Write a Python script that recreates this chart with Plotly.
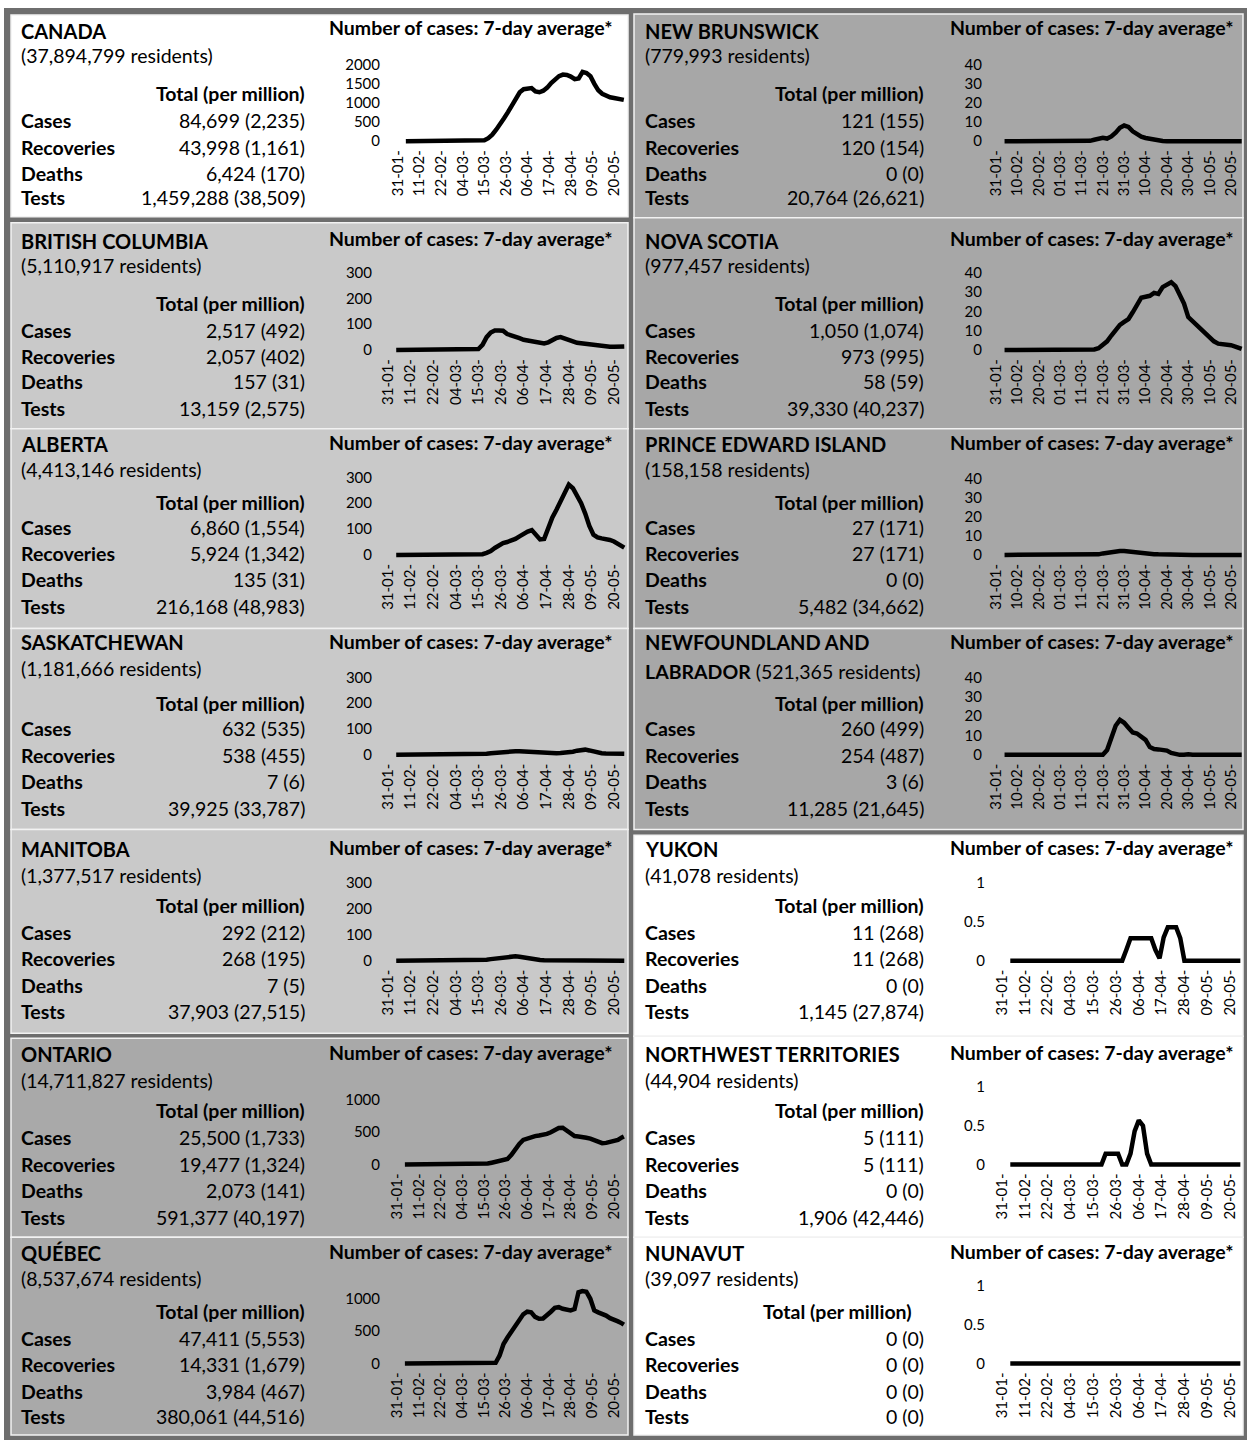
import datetime as dt
import plotly.graph_objects as go

W, H = 1247, 1443
FONT = "Lato"

# ---------------- data ----------------
DATES = ["2020-02-04", "2020-03-01", "2020-03-09", "2020-03-11", "2020-03-13", "2020-03-15",
         "2020-03-17", "2020-03-19", "2020-03-21", "2020-03-23", "2020-03-25", "2020-03-27",
         "2020-03-29", "2020-03-31", "2020-04-02", "2020-04-04", "2020-04-06", "2020-04-08",
         "2020-04-10", "2020-04-12", "2020-04-14", "2020-04-16", "2020-04-18", "2020-04-20",
         "2020-04-22", "2020-04-24", "2020-04-26", "2020-04-28", "2020-04-30", "2020-05-02",
         "2020-05-04", "2020-05-06", "2020-05-08", "2020-05-10", "2020-05-12", "2020-05-14",
         "2020-05-16", "2020-05-18", "2020-05-20", "2020-05-22", "2020-05-24", "2020-05-25"]

REGIONS = ["CANADA", "BRITISH COLUMBIA", "ALBERTA", "SASKATCHEWAN", "MANITOBA", "ONTARIO", "QUÉBEC",
           "NEW BRUNSWICK", "NOVA SCOTIA", "PRINCE EDWARD ISLAND", "NEWFOUNDLAND AND",
           "YUKON", "NORTHWEST TERRITORIES", "NUNAVUT"]
RESIDENTS = ["37,894,799", "5,110,917", "4,413,146", "1,181,666", "1,377,517", "14,711,827", "8,537,674",
             "779,993", "977,457", "158,158", "521,365", "41,078", "44,904", "39,097"]
CASES = ["84,699 (2,235)", "2,517 (492)", "6,860 (1,554)", "632 (535)", "292 (212)", "25,500 (1,733)",
         "47,411 (5,553)", "121 (155)", "1,050 (1,074)", "27 (171)", "260 (499)", "11 (268)",
         "5 (111)", "0 (0)"]
RECOVERIES = ["43,998 (1,161)", "2,057 (402)", "5,924 (1,342)", "538 (455)", "268 (195)",
              "19,477 (1,324)", "14,331 (1,679)", "120 (154)", "973 (995)", "27 (171)", "254 (487)",
              "11 (268)", "5 (111)", "0 (0)"]
DEATHS = ["6,424 (170)", "157 (31)", "135 (31)", "7 (6)", "7 (5)", "2,073 (141)", "3,984 (467)",
          "0 (0)", "58 (59)", "0 (0)", "3 (6)", "0 (0)", "0 (0)", "0 (0)"]
TESTS = ["1,459,288 (38,509)", "13,159 (2,575)", "216,168 (48,983)", "39,925 (33,787)",
         "37,903 (27,515)", "591,377 (40,197)", "380,061 (44,516)", "20,764 (26,621)",
         "39,330 (40,237)", "5,482 (34,662)", "11,285 (21,645)", "1,145 (27,874)",
         "1,906 (42,446)", "0 (0)"]
ROW_LABELS = ["Cases", "Recoveries", "Deaths", "Tests"]
HEADER = "Total (per million)"
CHART_TITLE = "Number of cases: 7-day average*"

Y_MAX = [2000, 300, 300, 300, 300, 1000, 1000, 40, 40, 40, 40, 1, 1, 1]
Y_STEP = [500, 100, 100, 100, 100, 500, 500, 10, 10, 10, 10, 0.5, 0.5, 0.5]
TICK_DAYS = [11, 11, 11, 11, 11, 11, 11, 10, 10, 10, 10, 11, 11, 11]

CANADA_AVG = [0, 0, 0, 0, 5, 25, 80, 170, 300, 430, 600, 760, 950, 1130, 1280, 1360, 1390, 1390,
              1300, 1280, 1320, 1400, 1520, 1620, 1700, 1740, 1730, 1690, 1620, 1640, 1810, 1780,
              1700, 1500, 1330, 1240, 1180, 1150, 1130, 1120, 1100, 1080]
BC_AVG = [0, 0, 2, 2, 3, 4, 20, 50, 68, 76, 76, 75, 62, 58, 52, 46, 40, 37, 34, 31, 28, 26, 30, 40,
          47, 50, 46, 40, 34, 28, 26, 25, 22, 19, 15, 13, 13, 13, 13, 14, 14, 14]
AB_AVG = [0, 0, 0, 0, 0, 1, 3, 8, 15, 27, 38, 46, 50, 55, 62, 72, 82, 90, 96, 75, 60, 62, 105, 145,
          175, 210, 245, 272, 258, 232, 200, 160, 112, 78, 68, 64, 62, 58, 52, 42, 32, 28]
SK_AVG = [0, 0, 0, 0, 0, 0, 2, 4, 6, 8, 10, 11, 12, 13, 14, 14, 13, 12, 10, 8, 7, 6, 5, 5, 6, 7, 8,
          9, 12, 16, 19, 20, 17, 12, 8, 6, 5, 4, 4, 4, 4, 4]
MB_AVG = [0, 0, 0, 0, 0, 0, 2, 4, 6, 8, 10, 12, 14, 16, 17, 15, 12, 9, 6, 4, 3, 2, 2, 2, 1, 1, 1, 1,
          1, 1, 1, 0, 0, 0, 0, 0, 0, 0, 0, 0, 0, 0]
ON_AVG = [0, 0, 0, 0, 0, 5, 15, 28, 38, 50, 62, 85, 150, 250, 320, 380, 405, 420, 440, 450, 460, 475,
          500, 530, 565, 570, 530, 480, 440, 435, 430, 415, 400, 380, 355, 330, 335, 350, 365, 380,
          420, 435]
QC_AVG = [0, 0, 0, 0, 0, 0, 0, 0, 10, 120, 300, 400, 490, 570, 670, 760, 800, 790, 720, 690, 695,
          740, 800, 860, 870, 845, 830, 820, 840, 1100, 1120, 1110, 1000, 820, 790, 770, 740, 700,
          680, 650, 620, 600]
NB_AVG = [0, 0, 0, 0, 0, 0.2, 0.8, 1.3, 1.8, 1.4, 2.5, 4.5, 7.0, 8.2, 7.5, 5.2, 3.5, 2.4, 1.7, 1.2,
          0.8, 0.4, 0.1, 0, 0, 0, 0, 0, 0, 0, 0, 0, 0, 0, 0, 0, 0, 0, 0, 0, 0, 0]
NS_AVG = [0, 0, 0, 0, 0, 0, 0.3, 1, 2.5, 4.5, 7.5, 10.5, 13, 14.5, 16, 19.5, 23.5, 27, 27.5, 28,
          29.5, 29, 32.5, 34, 35, 33, 28, 24, 17, 15, 13, 11, 8.5, 6.5, 4.5, 3.3, 3.1, 2.8, 2.5,
          1.8, 1, 0.6]
PE_AVG = [0, 0, 0, 0, 0, 0, 0, 0.3, 0.8, 1.2, 1.5, 1.8, 2.0, 2.1, 1.8, 1.3, 1.0, 0.8, 0.6, 0.5, 0.4,
          0.3, 0.2, 0.1, 0, 0, 0, 0, 0, 0, 0, 0, 0, 0, 0, 0, 0, 0, 0, 0, 0, 0]
NL_AVG = [0, 0, 0, 0, 0, 0, 0, 0, 0, 2.5, 9, 15, 18, 16.5, 14, 11.5, 11, 9, 7.7, 4, 3, 2.8, 2.6, 2.2,
          1.0, 0.2, 0, 0, 0.3, 0, 0, 0, 0, 0.3, 0, 0, 0, 0, 0, 0, 0, 0]
YT_AVG = [0, 0, 0, 0, 0, 0, 0, 0, 0, 0, 0, 0, 0, 0.14, 0.29, 0.29, 0.29, 0.29, 0.29, 0.29, 0.14,
          0.03, 0.3, 0.43, 0.43, 0.43, 0.29, 0, 0, 0, 0, 0, 0, 0, 0, 0, 0, 0, 0, 0, 0, 0]
NT_AVG = [0, 0, 0, 0, 0, 0, 0, 0, 0.14, 0.14, 0.14, 0.14, 0, 0, 0.14, 0.43, 0.57, 0.5, 0.14, 0, 0,
          0, 0, 0, 0, 0, 0, 0, 0, 0, 0, 0, 0, 0, 0, 0, 0, 0, 0, 0, 0, 0]
NU_AVG = [0, 0, 0, 0, 0, 0, 0, 0, 0, 0, 0, 0, 0, 0, 0, 0, 0, 0, 0, 0, 0, 0, 0, 0, 0, 0, 0, 0, 0, 0,
          0, 0, 0, 0, 0, 0, 0, 0, 0, 0, 0, 0]

SERIES = [CANADA_AVG, BC_AVG, AB_AVG, SK_AVG, MB_AVG, ON_AVG, QC_AVG,
          NB_AVG, NS_AVG, PE_AVG, NL_AVG, YT_AVG, NT_AVG, NU_AVG]

# ---------------- layout (pixels) ----------------
WHITE, LIGHT, MID, MID2, FRAME = "#ffffff", "#c9c9c9", "#a9a9a9", "#a7a7a7", "#6e6e6e"

PANELS = [
    dict(box=(11, 10, 628, 213), fill=WHITE, tx=19, vx=307, hx=307,
         rows=[26, 51, 89, 116, 143, 169, 194], ct=(23, 614), cx=(398, 614), cy=(137, 60), yl=380),
    dict(box=(11, 219, 628, 426), fill=LIGHT, tx=19, vx=307, hx=307,
         rows=[237, 262, 300, 327, 353, 379, 406], ct=(235, 614), cx=(388, 614), cy=(347, 269), yl=372),
    dict(box=(11, 426, 628, 627), fill=LIGHT, tx=19, vx=307, hx=307,
         rows=[441, 467, 500, 525, 552, 578, 605], ct=(440, 614), cx=(388, 614), cy=(553, 475), yl=372),
    dict(box=(11, 627, 628, 829), fill=LIGHT, tx=19, vx=307, hx=307,
         rows=[641, 667, 702, 728, 755, 781, 808], ct=(640, 614), cx=(388, 614), cy=(754, 676), yl=372),
    dict(box=(11, 829, 628, 1034), fill=LIGHT, tx=19, vx=307, hx=307,
         rows=[849, 875, 906, 933, 959, 986, 1012], ct=(847, 614), cx=(388, 614), cy=(961, 883), yl=372),
    dict(box=(11, 1039, 628, 1239), fill=MID, tx=19, vx=307, hx=307,
         rows=[1055, 1081, 1112, 1139, 1166, 1192, 1219], ct=(1053, 614), cx=(397, 614), cy=(1166, 1101), yl=380),
    dict(box=(11, 1239, 628, 1438), fill=MID, tx=19, vx=307, hx=307,
         rows=[1255, 1281, 1314, 1341, 1367, 1394, 1419], ct=(1253, 614), cx=(397, 614), cy=(1366, 1301), yl=380),
    dict(box=(634, 9, 1243, 214), fill=MID2, tx=643, vx=926, hx=926,
         rows=[26, 51, 89, 116, 143, 169, 194], ct=(23, 1235), cx=(996, 1231), cy=(137, 60), yl=982),
    dict(box=(634, 214, 1243, 426), fill=MID2, tx=643, vx=926, hx=926,
         rows=[237, 262, 300, 327, 353, 379, 406], ct=(235, 1235), cx=(996, 1231), cy=(347, 269), yl=982),
    dict(box=(634, 426, 1243, 627), fill=MID2, tx=643, vx=926, hx=926,
         rows=[441, 467, 500, 525, 552, 578, 605], ct=(440, 1235), cx=(996, 1231), cy=(553, 476), yl=982),
    dict(box=(634, 627, 1243, 829), fill=MID2, tx=643, vx=926, hx=926,
         rows=[641, 670, 702, 728, 755, 781, 808], ct=(640, 1235), cx=(996, 1231), cy=(754, 676), yl=982),
    dict(box=(634, 835, 1243, 1037), fill=WHITE, tx=643, vx=926, hx=926,
         rows=[849, 875, 906, 933, 959, 986, 1012], ct=(847, 1235), cx=(1002, 1230), cy=(961, 883), yl=985),
    dict(box=(634, 1037, 1243, 1239), fill=WHITE, tx=643, vx=926, hx=926,
         rows=[1055, 1081, 1112, 1139, 1166, 1192, 1219], ct=(1053, 1235), cx=(1002, 1230), cy=(1166, 1088), yl=985),
    dict(box=(634, 1239, 1243, 1438), fill=WHITE, tx=643, vx=926, hx=914,
         rows=[1255, 1281, 1314, 1341, 1367, 1394, 1419], ct=(1253, 1235), cx=(1002, 1230), cy=(1366, 1288), yl=985),
]


def fx(p):
    return p / W


def fy(p):
    return 1 - p / H


TXT = 19.5
TICK = 15
INK = "#000000"

fig = go.Figure()
shapes = [dict(type="rect", xref="paper", yref="paper", x0=fx(4), x1=fx(1247), y0=fy(1443), y1=fy(3),
               fillcolor=FRAME, line=dict(width=0), layer="below")]
annotations = []
layout_axes = {}
base = dt.datetime(2020, 1, 31)


def ann(x, y, text, anchor="left", size=TXT):
    annotations.append(dict(xref="paper", yref="paper", x=fx(x), y=fy(y), text=text, showarrow=False,
                            xanchor=anchor, yanchor="middle",
                            font=dict(family=FONT, size=size, color=INK)))


for i, p in enumerate(PANELS):
    x0, y0, x1, y1 = p["box"]
    shapes.append(dict(type="rect", xref="paper", yref="paper", x0=fx(x0), x1=fx(x1), y0=fy(y1), y1=fy(y0),
                       fillcolor=p["fill"], line=dict(color="#f2f2f2", width=1.5), layer="below"))
    r = p["rows"]
    ann(p["tx"], r[0], "<b>%s</b>" % REGIONS[i], size=20)
    if i == 10:
        ann(p["tx"], r[1], "<b>LABRADOR</b> (%s residents)" % RESIDENTS[i])
    else:
        ann(p["tx"], r[1], "(%s residents)" % RESIDENTS[i])
    ann(p["hx"], r[2], "<b>%s</b>" % HEADER, anchor="right")
    vals = [CASES[i], RECOVERIES[i], DEATHS[i], TESTS[i]]
    for k in range(4):
        ann(p["tx"], r[3 + k], "<b>%s</b>" % ROW_LABELS[k])
        ann(p["vx"], r[3 + k], vals[k], anchor="right")
    ann(p["ct"][1], p["ct"][0], "<b>%s</b>" % CHART_TITLE, anchor="right")

    # axes
    n = i + 1
    cx0, cx1 = p["cx"]
    cy0, cyt = p["cy"]
    ppd = (cx1 - cx0) / 110.0
    left_px = p["yl"] + 1
    right_px = cx0 + 116.5 * ppd
    start = base - dt.timedelta(days=(cx0 - left_px) / ppd)
    end = base + dt.timedelta(days=116.5)
    ymax = Y_MAX[i]
    top = max(ymax, max(SERIES[i]))
    scale = (cy0 - cyt) / ymax
    pad = 5
    yr = [-pad / scale, top + pad / scale]
    ticks = []
    v = 0
    while v <= ymax + 1e-9:
        ticks.append(v)
        v += Y_STEP[i]
    suffix = "" if n == 1 else str(n)
    layout_axes["xaxis" + suffix] = dict(
        type="date", domain=[fx(left_px), fx(right_px)],
        range=[start.strftime("%Y-%m-%d %H:%M:%S"), end.strftime("%Y-%m-%d %H:%M:%S")],
        tick0="2020-01-31", dtick=86400000 * TICK_DAYS[i], tickformat="%d-%m-", tickangle=-90,
        showgrid=False, zeroline=False, showline=False, ticks="", anchor="y" + suffix,
        tickfont=dict(family=FONT, size=TICK, color=INK), fixedrange=True)
    layout_axes["yaxis" + suffix] = dict(
        domain=[fy(cy0 + pad), fy(cy0 - top * scale - pad)], range=yr, tickvals=ticks,
        ticktext=["%g" % t for t in ticks], showgrid=False, zeroline=False, showline=False,
        ticks="", anchor="x" + suffix, tickfont=dict(family=FONT, size=TICK, color=INK),
        fixedrange=True)
    fig.add_trace(go.Scatter(x=DATES, y=SERIES[i], mode="lines",
                             line=dict(color="black", width=4.5),
                             xaxis="x" + suffix, yaxis="y" + suffix,
                             showlegend=False, hoverinfo="skip"))

fig.update_layout(width=W, height=H, margin=dict(l=0, r=0, t=0, b=0),
                  paper_bgcolor="white", plot_bgcolor="rgba(0,0,0,0)",
                  shapes=shapes, annotations=annotations, **layout_axes)

fig.write_html("out.html", config={"displayModeBar": False},
               post_script="document.body.style.margin='0px';document.body.style.overflow='hidden';")
